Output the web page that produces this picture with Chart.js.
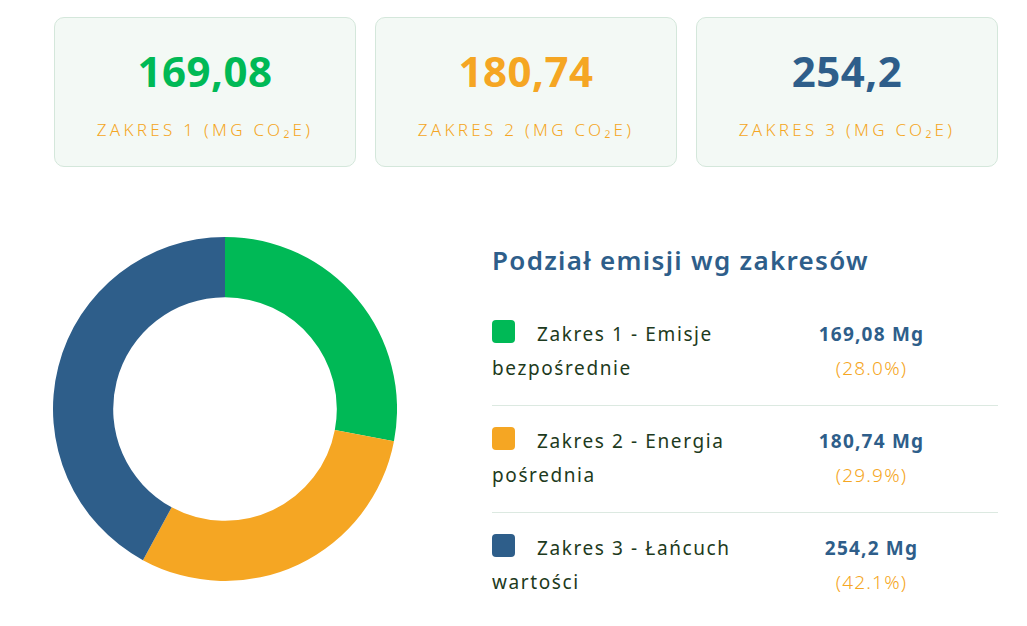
<!DOCTYPE html>
<html lang="pl">
<head>
    <meta charset="UTF-8">
    <title>Podział emisji wg zakresów</title>
    <script src="https://cdn.jsdelivr.net/npm/chart.js"></script>
    <style>
        body {
            margin: 0;
            width: 1027px;
            height: 626px;
            background: #ffffff;
            font-family: "Noto Sans", sans-serif;
            position: relative;
            overflow: hidden;
        }

        .cards {
            position: absolute;
            left: 54px;
            top: 17px;
            display: flex;
            gap: 19px;
        }

        .card {
            width: 300px;
            height: 148px;
            border: 1px solid #d4e7db;
            border-radius: 10px;
            background: #f3f9f5;
            text-align: center;
        }

        .card .value {
            margin-top: 28px;
            font-size: 42px;
            line-height: 50px;
            font-weight: 700;
            letter-spacing: 0.5px;
        }

        .card .label {
            margin-top: 22px;
            font-size: 17px;
            font-weight: 300;
            letter-spacing: 3.3px;
            color: #f5a623;
        }

        .chart-box {
            position: absolute;
            left: 53px;
            top: 237px;
            width: 344px;
            height: 344px;
        }

        .legend {
            position: absolute;
            left: 492px;
            top: 240px;
            width: 506px;
        }

        .legend h2 {
            margin: 0;
            font-size: 26px;
            line-height: 40px;
            font-weight: 600;
            color: #2e5e8a;
            letter-spacing: 1.3px;
        }

        .row {
            display: flex;
            padding: 18px 0 20px 0;
            border-bottom: 1px solid #dce9e1;
            font-size: 19px;
            line-height: 34px;
        }

        .row:first-of-type { margin-top: 19px; }
        .row:last-child { border-bottom: none; }

        .row .name {
            width: 253px;
            color: #1d3a20;
            letter-spacing: 1.6px;
        }

        .row .swatch {
            display: inline-block;
            width: 23px;
            height: 23px;
            border-radius: 4px;
            margin-right: 22px;
            vertical-align: -2px;
        }

        .row .nums {
            width: 253px;
            text-align: center;
            letter-spacing: 1.2px;
        }

        .row .mg {
            font-weight: 700;
            color: #2e5e8a;
        }

        .row .pct {
            font-weight: 300;
            color: #f5a623;
        }
    </style>
</head>
<body>

    <div class="cards" id="cards"></div>

    <div class="chart-box">
        <canvas id="scopeChart"></canvas>
    </div>

    <div class="legend" id="legend">
        <h2>Podział emisji wg zakresów</h2>
    </div>

    <script>
        // Dane
        const scopes = ["Zakres 1", "Zakres 2", "Zakres 3"];
        const scopeNames = ["Zakres 1 - Emisje bezpośrednie", "Zakres 2 - Energia pośrednia", "Zakres 3 - Łańcuch wartości"];
        const emissions = [169.08, 180.74, 254.2];
        const colors = ["#00b956", "#f5a623", "#2e5e8a"];

        const total = emissions.reduce((a, b) => a + b, 0);
        const plNum = v => String(v).replace('.', ',');

        // Karty u góry
        const cards = document.getElementById('cards');
        scopes.forEach((s, i) => {
            const card = document.createElement('div');
            card.className = 'card';
            card.innerHTML = '<div class="value" style="color:' + colors[i] + '">' + plNum(emissions[i]) + '</div>' +
                '<div class="label">' + s.toUpperCase() + ' (MG CO₂E)</div>';
            cards.appendChild(card);
        });

        // Legenda z wartościami
        const legend = document.getElementById('legend');
        scopeNames.forEach((n, i) => {
            const row = document.createElement('div');
            row.className = 'row';
            row.innerHTML = '<div class="name"><span class="swatch" style="background:' + colors[i] + '"></span>' + n + '</div>' +
                '<div class="nums"><div class="mg">' + plNum(emissions[i]) + ' Mg</div>' +
                '<div class="pct">(' + (emissions[i] / total * 100).toFixed(1) + '%)</div></div>';
            legend.appendChild(row);
        });

        // Wykres pierścieniowy
        const ctx = document.getElementById('scopeChart').getContext('2d');
        new Chart(ctx, {
            type: 'doughnut',
            data: {
                labels: scopeNames,
                datasets: [{
                    data: emissions,
                    backgroundColor: colors,
                    borderWidth: 0,
                    hoverOffset: 0
                }]
            },
            options: {
                responsive: true,
                maintainAspectRatio: false,
                animation: false,
                cutout: '65%',
                layout: { padding: 0 },
                plugins: {
                    legend: { display: false },
                    tooltip: { enabled: false }
                }
            }
        });
    </script>

</body>
</html>
